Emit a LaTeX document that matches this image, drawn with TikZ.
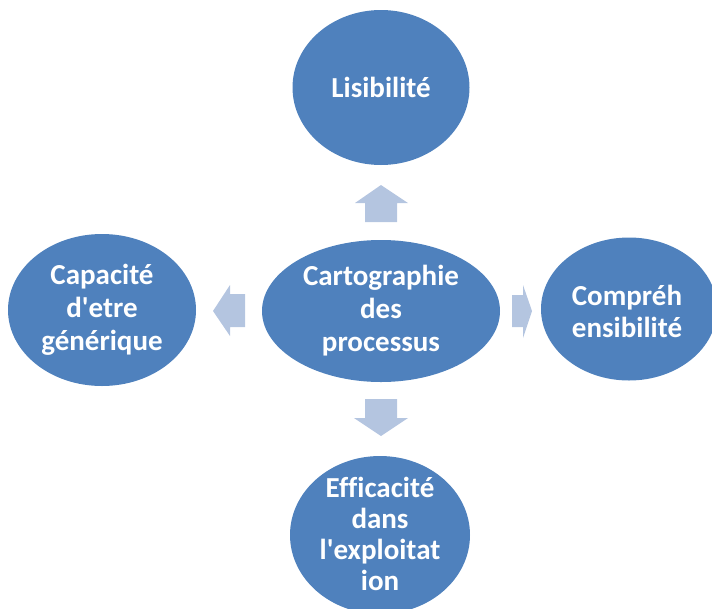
\documentclass[tikz,border=0pt]{standalone}
\usepackage{fontspec}
\setmainfont{Carlito}[Ligatures={NoCommon}]
\usetikzlibrary{shapes.geometric}
\definecolor{ellblue}{HTML}{4F81BD}
\definecolor{arrblue}{HTML}{B4C5E0}
\tikzset{
  bubble/.style={ellipse, fill=ellblue, inner sep=0pt, text=white, align=center,
    font=\bfseries\fontsize{29}{33}\selectfont},
  bubbletext/.style={text=white, align=center, font=\bfseries\fontsize{29}{32}\selectfont},
  blockarrow/.style={fill=arrblue}
}
\begin{document}
\begin{tikzpicture}[x=1pt,y=-1pt]
\useasboundingbox (0,0) rectangle (712,608);
\clip (0,0) rectangle (712,608);
% ellipses
\node[bubble, minimum width=177pt, minimum height=155pt] (top) at (381,87.5) {Lisibilité};
\node[bubble, minimum width=238pt, minimum height=142pt] (center) at (381,311) {Cartographie\\des\\processus};
\node[bubble, minimum width=188pt, minimum height=152pt] (left) at (102,310) {Capacité\\d\textquotesingle etre\\générique};
\node[bubble, minimum width=176pt, minimum height=143pt] (right) at (629,309) {};
\node[bubbletext] (righttext) at (627,311) {Compréh\\ensibilité};
\node[bubble, minimum width=180pt, minimum height=158pt] (bottom) at (380,535) {};
\node[bubbletext, font=\bfseries\fontsize{29}{31}\selectfont] (bottomtext) at (380,534) {Efficacité\\dans\\l\textquotesingle exploitat\\ion};
% block arrows
\fill[blockarrow] (381,185) -- (408,203) -- (397,203) -- (397,222) -- (365,222) -- (365,203) -- (355,203) -- cycle;
\fill[blockarrow] (381,436) -- (408,418) -- (397,418) -- (397,399) -- (365,399) -- (365,418) -- (354,418) -- cycle;
\fill[blockarrow] (213,311) -- (230,285) -- (230,294) -- (245,294) -- (245,327) -- (230,327) -- (230,336) -- cycle;
\fill[blockarrow] (532,311) -- (523,285) -- (523,295) -- (512,295) -- (512,327) -- (523,327) -- (523,338) -- cycle;
\end{tikzpicture}
\end{document}
